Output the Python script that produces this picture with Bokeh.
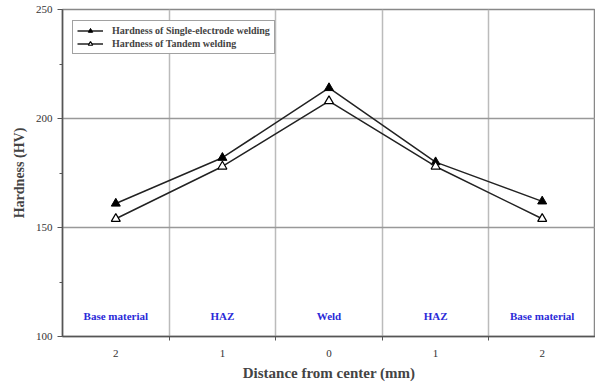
from bokeh.plotting import figure
from bokeh.models import FixedTicker, Legend, LegendItem, ColumnDataSource
from bokeh.core.properties import value
from bokeh.embed import file_html
from bokeh.resources import INLINE

tick_labels = ["2", "1", "0", "1", "2"]
regions = ["Base material", "HAZ", "Weld", "HAZ", "Base material"]
single = [161, 182, 214, 180, 162]
tandem = [154, 178, 208, 178, 154]
region_label_y = 109.5

xs = [i + 0.5 for i in range(len(tick_labels))]

FONT = "Liberation Serif"

p = figure(width=595, height=383, output_backend="svg", toolbar_location=None,
           x_range=(0, 5), y_range=(100, 250),
           min_border_left=62, min_border_right=0, min_border_top=9, min_border_bottom=44)

p.outline_line_color = "#888888"
p.outline_line_width = 1.5

# x axis
p.xaxis.ticker = FixedTicker(ticks=xs, minor_ticks=[1, 2, 3, 4])
p.xaxis.major_label_overrides = {x: t for x, t in zip(xs, tick_labels)}
p.xaxis.major_tick_line_color = None
p.xaxis.major_tick_out = 0
p.xaxis.major_tick_in = 0
p.xaxis.minor_tick_out = 4
p.xaxis.minor_tick_in = 0
p.xaxis.minor_tick_line_color = "#555555"
p.xaxis.axis_line_color = "#555555"
p.xaxis.axis_line_width = 1.5
p.xaxis.major_label_text_font = FONT
p.xaxis.major_label_text_font_size = "11px"
p.xaxis.major_label_text_color = "#333333"
p.xaxis.major_label_standoff = 9
p.xaxis.axis_label = "Distance from center (mm)"
p.xaxis.axis_label_text_font = FONT
p.xaxis.axis_label_text_font_style = "bold"
p.xaxis.axis_label_text_font_size = "15px"
p.xaxis.axis_label_standoff = 5

# y axis
p.yaxis.ticker = FixedTicker(ticks=[100, 150, 200, 250], minor_ticks=[125, 175, 225])
p.yaxis.major_tick_out = 5
p.yaxis.major_tick_in = 0
p.yaxis.minor_tick_out = 3
p.yaxis.minor_tick_in = 0
p.yaxis.major_tick_line_color = "#555555"
p.yaxis.minor_tick_line_color = "#555555"
p.yaxis.axis_line_color = "#555555"
p.yaxis.axis_line_width = 1.5
p.yaxis.major_label_text_font = FONT
p.yaxis.major_label_text_font_size = "11px"
p.yaxis.major_label_text_color = "#333333"
p.yaxis.axis_label = "Hardness (HV)"
p.yaxis.axis_label_text_font = FONT
p.yaxis.axis_label_text_font_style = "bold"
p.yaxis.axis_label_text_font_size = "14px"
p.yaxis.axis_label_standoff = 6

# grids
p.xgrid.ticker = FixedTicker(ticks=[1, 2, 3, 4])
p.xgrid.grid_line_color = "#bbbbbb"
p.xgrid.grid_line_width = 1.5
p.ygrid.ticker = FixedTicker(ticks=[150, 200])
p.ygrid.grid_line_color = "#999999"
p.ygrid.grid_line_width = 1.5

# region labels
src_r = ColumnDataSource(dict(x=xs, y=[region_label_y] * len(xs), t=regions))
p.text(x="x", y="y", text="t", source=src_r, text_align="center", text_baseline="middle",
       text_font=value(FONT), text_font_style="bold", text_font_size="11px", text_color="#2a2ad8")

l1 = p.line(xs, single, line_color="#222222", line_width=1.5)
s1 = p.scatter(xs, single, marker="triangle", size=9, fill_color="black", line_color="black")
l2 = p.line(xs, tandem, line_color="#222222", line_width=1.5)
s2 = p.scatter(xs, tandem, marker="triangle", size=9, fill_color="white", line_color="black", line_width=1.2)

legend = Legend(items=[
    LegendItem(label="Hardness of Single-electrode welding", renderers=[l1, s1]),
    LegendItem(label="Hardness of Tandem welding", renderers=[l2, s2]),
], location=(10, 282))
legend.label_text_font = FONT
legend.label_text_font_style = "bold"
legend.label_text_font_size = "10px"
legend.label_height = 11
legend.glyph_height = 11
legend.glyph_width = 26
legend.spacing = 2
legend.padding = 4
legend.margin = 0
legend.border_line_color = "#444444"
legend.border_line_width = 1
legend.label_standoff = 9
p.add_layout(legend)

open("out.html", "w").write(file_html(p, INLINE))
